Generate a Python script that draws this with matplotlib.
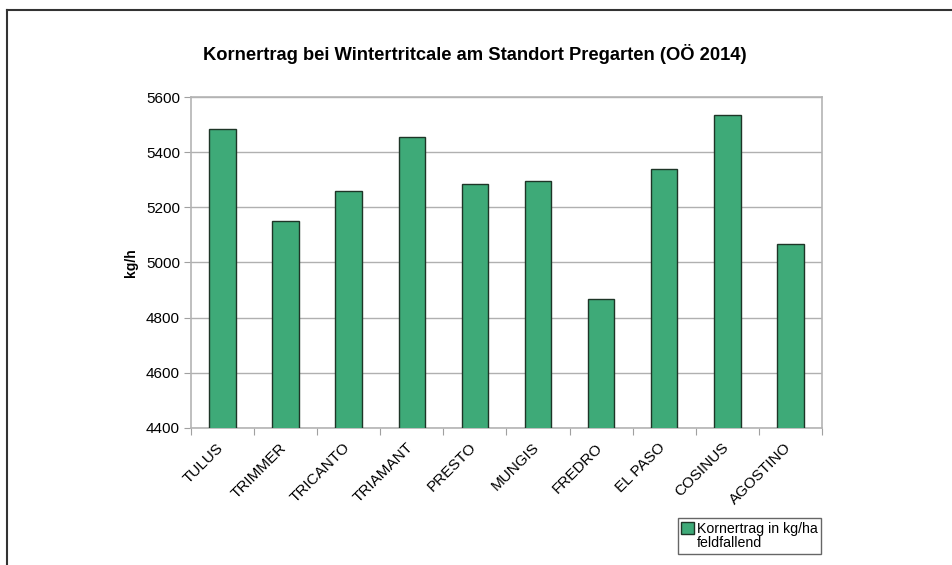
import matplotlib.pyplot as plt
from matplotlib.lines import Line2D
from matplotlib.patches import Patch
from matplotlib.transforms import ScaledTranslation

plt.rcParams['font.family'] = ['Liberation Sans', 'DejaVu Sans']

sorten = ['TULUS', 'TRIMMER', 'TRICANTO', 'TRIAMANT', 'PRESTO',
          'MUNGIS', 'FREDRO', 'EL PASO', 'COSINUS', 'AGOSTINO']
ertrag = [5485, 5150, 5258, 5456, 5285, 5294, 4867, 5340, 5535, 5066]

bar_color = '#3eaa78'
edge_color = '#1e3527'

fig = plt.figure(figsize=(9.52, 5.65), dpi=100)
ax = fig.add_axes([0.2006, 0.2425, 0.6628, 0.5858])

x = list(range(len(sorten)))
ax.bar(x, ertrag, width=0.42, color=bar_color, edgecolor=edge_color,
       linewidth=1.0, zorder=3)

ax.set_ylim(4400, 5600)
ax.set_yticks(range(4400, 5601, 200))
ax.set_xlim(-0.5, len(sorten) - 0.5)
ax.yaxis.grid(True, color='#b0b0b0', linewidth=1.0, zorder=0)

# category boundary ticks on x axis
ax.set_xticks([i - 0.5 for i in range(len(sorten) + 1)], minor=False)
ax.set_xticklabels([])
ax.set_xticks(x, minor=True)
ax.set_xticklabels(sorten, minor=True, rotation=45, ha='right',
                   rotation_mode='anchor', fontsize=11)
ax.tick_params(axis='x', which='minor', length=0, pad=9)
ax.tick_params(axis='x', which='major', length=5, color='#a0a0a0', direction='out')
ax.tick_params(axis='y', length=5, color='#a0a0a0', labelsize=11, pad=3)

shift = ScaledTranslation(-6 / 100, 0, fig.dpi_scale_trans)
for lbl in ax.get_xticklabels(minor=True):
    lbl.set_transform(lbl.get_transform() + shift)

for s in ax.spines.values():
    s.set_color('#b4b4b4')
    s.set_linewidth(1.2)

ax.set_ylabel('kg/h', fontsize=10, fontweight='bold', labelpad=6)

fig.text(0.499, 0.905, 'Kornertrag bei Wintertritcale am Standort Pregarten (OÖ 2014)',
         ha='center', va='center', fontsize=13.2, fontweight='bold')

handles = [Patch(facecolor=bar_color, edgecolor=edge_color, label='Kornertrag in kg/ha'),
           Patch(facecolor='none', edgecolor='none', label='feldfallend')]
leg = fig.legend(handles=handles, loc='upper left', bbox_to_anchor=(0.712, 0.083),
                 fontsize=10.2, frameon=True, fancybox=False, handlelength=0.9,
                 handleheight=0.9, handletextpad=0.2, borderpad=0.25,
                 labelspacing=0.05, borderaxespad=0)
leg.get_frame().set_edgecolor('#404040')
leg.get_frame().set_linewidth(1.0)

# outer frame lines (top and left)
fig.add_artist(Line2D([0.0075, 1.0], [0.982, 0.982], color='#333333', linewidth=1.5))
fig.add_artist(Line2D([0.0075, 0.0075], [0.0, 0.982], color='#333333', linewidth=1.5))

fig.savefig('out.png', dpi=100)
